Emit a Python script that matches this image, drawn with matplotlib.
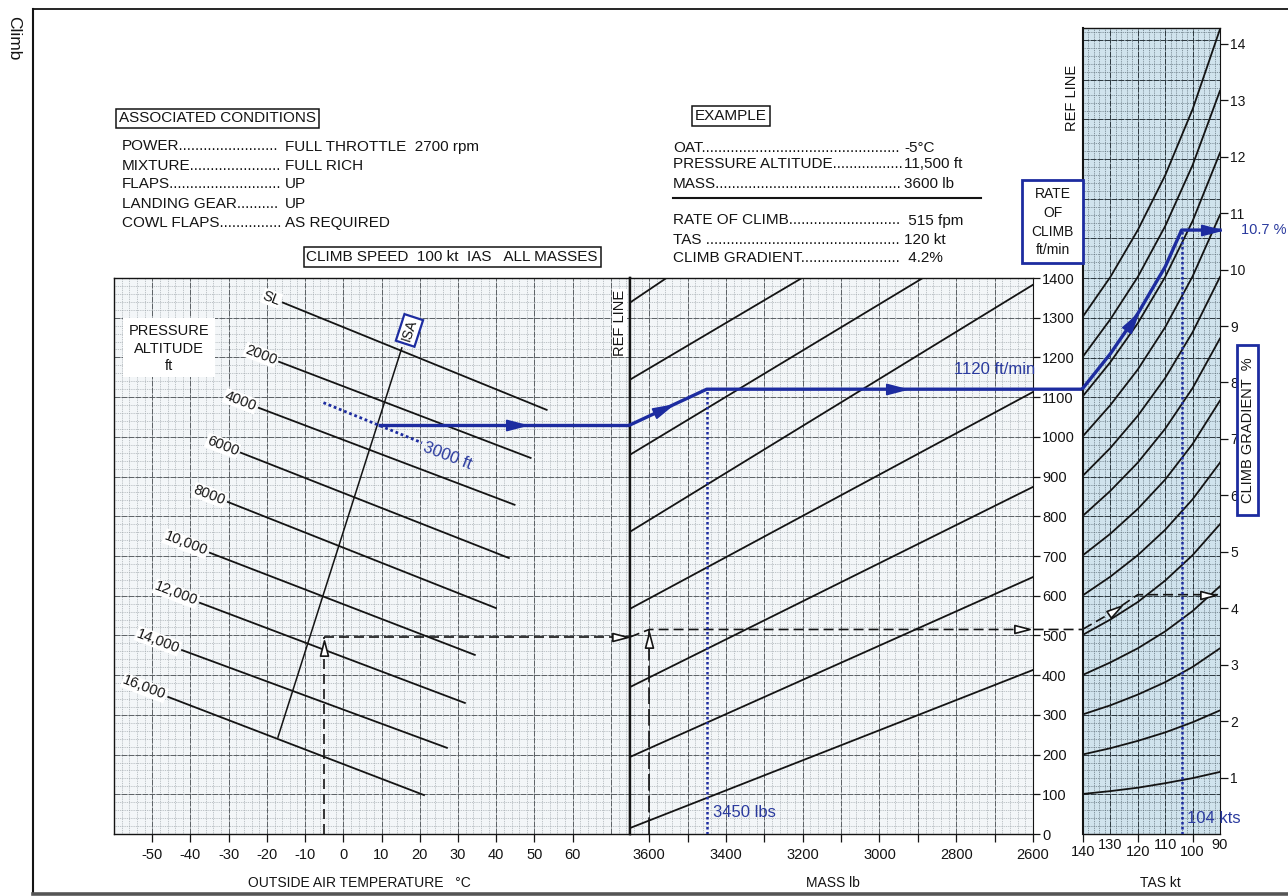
import numpy as np
import matplotlib
matplotlib.use('Agg')
import matplotlib.pyplot as plt
from matplotlib.markers import MarkerStyle
from matplotlib.path import Path
from matplotlib.transforms import Affine2D
from matplotlib.patches import Rectangle
from matplotlib.lines import Line2D

# ---------------- data ----------------
temp_ticks = [-50, -40, -30, -20, -10, 0, 10, 20, 30, 40, 50, 60]
mass_ticks = [3600, 3500, 3400, 3300, 3200, 3100, 3000, 2900, 2800, 2700, 2600]
mass_labels = ['3600', '', '3400', '', '3200', '', '3000', '', '2800', '', '2600']
roc_ticks = [0, 100, 200, 300, 400, 500, 600, 700, 800, 900, 1000, 1100, 1200, 1300, 1400]
tas_ticks = [140, 130, 120, 110, 100, 90]
tas_major = [140, 120, 100]
grad_ticks = [1, 2, 3, 4, 5, 6, 7, 8, 9, 10, 11, 12, 13, 14]

# pressure altitude lines (OAT degC, rate of climb fpm) start / end
alt_names = ['SL', '2000', '4000', '6000', '8000', '10,000', '12,000', '14,000', '16,000']
alt_oat_start = [-15.8, -16.8, -22.1, -26.8, -30.2, -34.9, -37.5, -42.2, -45.8]
alt_roc_start = [1338, 1189, 1073, 960, 836, 708, 582, 463, 345]
alt_oat_end = [53.2, 49.0, 44.8, 43.3, 39.9, 34.4, 31.8, 27.1, 21.1]
alt_roc_end = [1068, 947, 829, 695, 569, 451, 330, 217, 98]

isa_oat = [-17.1, 15.3]
isa_roc = [244, 1224]

# mass correction guide lines (mass lb, rate of climb fpm)
guide_mass_start = [3650, 3650, 3650, 3650, 3650, 3650, 3650, 3650]
guide_roc_start = [15, 194, 370, 567, 761, 955, 1144, 1338]
guide_mass_end = [2600, 2600, 2600, 2600, 2600, 2887, 3202, 3555]
guide_roc_end = [413, 647, 874, 1113, 1383, 1400, 1400, 1400]

# climb gradient guide curves (% at the TAS points)
tas_pts = [140, 130, 120, 110, 100, 90]
curve_grad = [
    [0.71, 0.76, 0.82, 0.90, 0.99, 1.10],
    [1.41, 1.52, 1.65, 1.80, 1.98, 2.19],
    [2.12, 2.28, 2.47, 2.69, 2.96, 3.29],
    [2.82, 3.04, 3.29, 3.59, 3.95, 4.39],
    [3.53, 3.80, 4.11, 4.49, 4.94, 5.49],
    [4.23, 4.56, 4.94, 5.39, 5.93, 6.58],
    [4.94, 5.32, 5.76, 6.28, 6.91, 7.68],
    [5.64, 6.08, 6.58, 7.18, 7.90, 8.78],
    [6.35, 6.84, 7.41, 8.08, 8.89, 9.87],
    [7.05, 7.60, 8.23, 8.98, 9.88, 10.97],
    [7.76, 8.36, 9.05, 9.87, 10.86, 12.07],
    [8.46, 9.12, 9.87, 10.77, 11.85, 13.17],
    [9.17, 9.87, 10.70, 11.67, 12.84, 14.26],
]

# black example
ex_oat = -5
ex_roc_ref = 496
ex_mass = 3600
ex_roc = 515
ex_tas = [140, 130, 120]
ex_grad = [3.63, 3.91, 4.24]

# blue example
blue_alt_oat = [-5.2, 20.6]
blue_alt_roc = [1086, 985]
blue_isa_oat = 9.1
blue_roc_ref = 1030
blue_mass = 3450
blue_roc = 1120
blue_tas = [140, 130, 120, 110, 104]
blue_grad = [7.90, 8.51, 9.22, 10.05, 10.70]

cond_labels = ['POWER', 'MIXTURE', 'FLAPS', 'LANDING GEAR', 'COWL FLAPS']
cond_values = ['FULL THROTTLE  2700 rpm', 'FULL RICH', 'UP', 'UP', 'AS REQUIRED']
ex_labels = ['OAT', 'PRESSURE ALTITUDE', 'MASS', 'RATE OF CLIMB', 'TAS ', 'CLIMB GRADIENT']
ex_values = ['-5°C', '11,500 ft', '3600 lb', ' 515 fpm', '120 kt', ' 4.2%']

# ---------------- figure ----------------
W, H = 1288, 896
plt.rcParams['font.family'] = ['Liberation Sans', 'DejaVu Sans']
fig = plt.figure(figsize=(W / 100, H / 100), dpi=100)
fig.patch.set_facecolor('white')

BLUE = '#1d2ca0'
BLUE_T = '#2a3a9e'
INK = '#141414'


def fx(x):
    return x / W


def fy(y):
    return 1 - y / H


def add_ax(x0, y0, x1, y1):
    return fig.add_axes([fx(x0), fy(y1), (x1 - x0) / W, (y1 - y0) / H])


def paper(ax, xs_min, xs_maj, ys_min, ys_maj, cmin, cmaj, bg):
    ax.set_facecolor(bg)
    x0, x1 = ax.get_xlim()
    y0, y1 = ax.get_ylim()
    ax.vlines(xs_min, y0, y1, colors=cmin, linewidths=0.5, linestyles=(0, (1.3, 1.3)), zorder=0.5)
    ax.hlines(ys_min, x0, x1, colors=cmin, linewidths=0.5, linestyles=(0, (1.3, 1.3)), zorder=0.5)
    ax.vlines(xs_maj, y0, y1, colors=cmaj, linewidths=0.7, linestyles=(0, (6, 1.2)), zorder=0.6)
    ax.hlines(ys_maj, x0, x1, colors=cmaj, linewidths=0.7, linestyles=(0, (6, 1.2)), zorder=0.6)


axL = add_ax(114, 278, 630, 834)
axL.set_xlim(-60, 75)
axL.set_ylim(0, 1400)
axM = add_ax(630, 278, 1033, 834)
axM.set_xlim(3650, 2600)
axM.set_ylim(0, 1400)
axG = add_ax(1083, 28, 1220, 834)
axG.set_xlim(140, 90)
axG.set_ylim(0, 2030)
axR = add_ax(1083, 28, 1220, 834)
axR.set_xlim(140, 90)
axR.set_ylim(0, 14.28)
axR.patch.set_visible(False)

cmin_lm, cmaj_lm, bg_lm = '#9ea6ab', '#5c6165', '#f3f6f8'
paper(axL, np.arange(-60, 76, 2), np.arange(-60, 76, 10), np.arange(0, 1401, 20), np.arange(0, 1401, 100),
      cmin_lm, cmaj_lm, bg_lm)
paper(axM, np.arange(2600, 3651, 20), np.arange(2600, 3651, 100), np.arange(0, 1401, 20), np.arange(0, 1401, 100),
      cmin_lm, cmaj_lm, bg_lm)
paper(axG, np.arange(90, 141, 2), np.arange(90, 141, 10), np.arange(0, 2031, 20), np.arange(0, 2031, 100),
      '#5a6a74', '#2c373e', '#d0e3ed')
axG.set_xticks([])
axG.set_yticks([])
for s in axG.spines.values():
    s.set_visible(False)

for ax in (axL, axM):
    for s in ax.spines.values():
        s.set_color(INK)
        s.set_linewidth(1.0)
axL.spines['right'].set_linewidth(1.7)
axM.spines['left'].set_linewidth(1.7)
axM.spines['right'].set_linewidth(0.8)
for k, s in axR.spines.items():
    s.set_color(INK)
    s.set_linewidth(1.0)
axR.spines['left'].set_linewidth(1.5)
axR.spines['right'].set_linewidth(0.8)

# ticks
axL.set_xticks(temp_ticks)
axL.set_xticklabels([str(t) for t in temp_ticks])
axL.tick_params(axis='x', length=6, width=0.9, direction='out', labelsize=10.5, pad=4, colors=INK)
axL.set_yticks([])

axM.set_xticks(mass_ticks)
axM.set_xticklabels(mass_labels)
axM.tick_params(axis='x', length=6, width=0.9, direction='out', labelsize=10.5, pad=4, colors=INK)
axM.yaxis.tick_right()
axM.set_yticks(roc_ticks)
axM.set_yticklabels([str(r) for r in roc_ticks])
axM.tick_params(axis='y', length=5, width=0.9, direction='out', labelsize=10.5, pad=1.5, colors=INK)

axR.set_xticks(tas_major)
axR.set_xticklabels(['' for _ in tas_major])
axR.tick_params(axis='x', length=6, width=0.9, direction='out', colors=INK)
for i, t in enumerate(tas_ticks):
    off = -18 if i % 2 == 0 else -11
    axR.annotate(str(t), xy=(t, 0), xytext=(0, off), textcoords='offset pixels', ha='center', va='center',
                 fontsize=10.5, color=INK, annotation_clip=False)
axR.yaxis.tick_right()
axR.set_yticks(grad_ticks)
axR.set_yticklabels([str(g) for g in grad_ticks])
axR.tick_params(axis='y', length=6, width=0.9, direction='out', labelsize=10, pad=1.5, colors=INK)


def arrow(ax, p, d0, d1, filled=True, color=BLUE, ms=12, ec=None):
    a = ax.transData.transform(d0)
    b = ax.transData.transform(d1)
    ang = np.degrees(np.arctan2(b[1] - a[1], b[0] - a[0]))
    path = Path([(-1, -0.52), (1, 0), (-1, 0.52), (-1, -0.52)],
                [Path.MOVETO, Path.LINETO, Path.LINETO, Path.CLOSEPOLY])
    m = MarkerStyle(path, transform=Affine2D().rotate_deg(ang))
    ax.plot([p[0]], [p[1]], ls='none', marker=m, ms=ms, mfc=color if filled else 'white',
            mec=ec or color, mew=1.2, zorder=9, clip_on=False)


# ---------------- left panel ----------------
for i, name in enumerate(alt_names):
    axL.plot([alt_oat_start[i], alt_oat_end[i]], [alt_roc_start[i], alt_roc_end[i]], color=INK, lw=1.3, zorder=3)
    axL.annotate(name, xy=(alt_oat_start[i], alt_roc_start[i]), xytext=(-3, 1), textcoords='offset pixels',
                 rotation=-21, rotation_mode='anchor', ha='right', va='center', fontsize=10.5, color=INK,
                 zorder=4, bbox=dict(boxstyle='square,pad=0.05', fc='white', ec='none'))
axL.plot(isa_oat, isa_roc, color=INK, lw=1.1, zorder=3)
axL.text(17.3, 1268, 'ISA', rotation=72, ha='center', va='center', fontsize=10, color=INK, zorder=6,
         bbox=dict(boxstyle='square,pad=0.2', fc='white', ec=BLUE, lw=1.6))
axL.text(72.3, 1287, 'REF LINE', rotation=90, ha='center', va='center', fontsize=10.5, color=INK, zorder=4,
         bbox=dict(boxstyle='square,pad=0.05', fc='white', ec='none'))

# black example (left)
axL.plot([ex_oat, ex_oat], [0, ex_roc_ref], color=INK, lw=1.2, ls=(0, (6, 3)), zorder=5)
axL.plot([ex_oat, 75], [ex_roc_ref, ex_roc_ref], color=INK, lw=1.2, ls=(0, (6, 3)), zorder=5)
arrow(axL, (ex_oat, 468), (ex_oat, 400), (ex_oat, 500), filled=False, color=INK, ms=11)
arrow(axL, (72.3, ex_roc_ref), (60, ex_roc_ref), (75, ex_roc_ref), filled=False, color=INK, ms=11)

# blue example (left)
axL.plot(blue_alt_oat, blue_alt_roc, color=BLUE, lw=2.0, ls=(0, (1, 1)), zorder=6)
axL.plot([blue_isa_oat, 75], [blue_roc_ref, blue_roc_ref], color=BLUE, lw=2.4, zorder=7, solid_capstyle='butt')
arrow(axL, (45.3, blue_roc_ref), (40, blue_roc_ref), (75, blue_roc_ref), ms=14)
axL.text(27.3, 953, '3000 ft', rotation=-21, ha='center', va='center', fontsize=12, color=BLUE_T, zorder=7)

# ---------------- middle panel ----------------
for i in range(len(guide_roc_start)):
    axM.plot([guide_mass_start[i], guide_mass_end[i]], [guide_roc_start[i], guide_roc_end[i]],
             color=INK, lw=1.3, zorder=3)

axM.plot([ex_mass, ex_mass], [0, ex_roc], color=INK, lw=1.2, ls=(0, (10, 3)), zorder=5)
axM.plot([3650, ex_mass, 2470], [ex_roc_ref, ex_roc, ex_roc], color=INK, lw=1.2, ls=(0, (6, 3)),
         zorder=5, clip_on=False)
arrow(axM, (ex_mass, 489), (ex_mass, 400), (ex_mass, 500), filled=False, color=INK, ms=11)
arrow(axM, (2629, ex_roc), (2700, ex_roc), (2600, ex_roc), filled=False, color=INK, ms=11)

axM.plot([blue_mass, blue_mass], [0, blue_roc], color=BLUE, lw=1.8, ls=(0, (1, 1)), zorder=6)
axM.plot([3650, blue_mass, 2470], [blue_roc_ref, blue_roc, blue_roc], color=BLUE, lw=2.4, zorder=7,
         clip_on=False, solid_joinstyle='round')
arrow(axM, (3564, 1069), (3650, blue_roc_ref), (blue_mass, blue_roc), ms=14)
arrow(axM, (2957, blue_roc), (3000, blue_roc), (2900, blue_roc), ms=14)
axM.text(2699, 1169, '1120 ft/min', ha='center', va='center', fontsize=12, color=BLUE_T, zorder=7)
axM.text(3434, 53, '3450 lbs', ha='left', va='center', fontsize=12, color=BLUE_T, zorder=7)

# ---------------- right panel ----------------
for g in curve_grad:
    axR.plot(tas_pts, g, color=INK, lw=1.3, zorder=3)

axR.plot(ex_tas + [90], ex_grad + [ex_grad[-1]], color=INK, lw=1.2, ls=(0, (6, 3)), zorder=5)
arrow(axR, (128.3, 3.96), (130, 3.91), (120, 4.24), filled=False, color=INK, ms=11)
arrow(axR, (94.5, ex_grad[-1]), (100, ex_grad[-1]), (90, ex_grad[-1]), filled=False, color=INK, ms=11)

axR.plot([blue_tas[-1], blue_tas[-1]], [0, blue_grad[-1]], color=BLUE, lw=1.8, ls=(0, (1, 1)), zorder=6)
axR.plot(blue_tas + [90], blue_grad + [blue_grad[-1]], color=BLUE, lw=2.4, zorder=7, clip_on=False)
arrow(axR, (122, 9.08), (130, 8.51), (120, 9.22), ms=14)
arrow(axR, (93.2, blue_grad[-1]), (100, blue_grad[-1]), (90, blue_grad[-1]), ms=14)
axR.text(102, 0.28, '104 kts', ha='left', va='center', fontsize=12, color=BLUE_T, zorder=7, clip_on=False)
axR.annotate('10.7 %', xy=(90, 10.7), xytext=(21, 0), textcoords='offset pixels', ha='left', va='center',
             fontsize=10.5, color=BLUE_T, annotation_clip=False)

# ---------------- figure texts ----------------
renderer = fig.canvas.get_renderer()


def dotted(x, ybase, label, x_end, size):
    t = fig.text(fx(x), fy(ybase), label, fontsize=size, ha='left', va='baseline', color=INK)
    s = label
    for _ in range(200):
        s2 = s + '.'
        t.set_text(s2)
        if t.get_window_extent(renderer).x1 > x_end:
            t.set_text(s)
            break
        s = s2
    return t


box_kw = dict(boxstyle='square,pad=0.18', fc='white', ec=INK, lw=1.1)
fig.text(fx(119), fy(118.5), 'ASSOCIATED CONDITIONS', fontsize=11, ha='left', va='center', color=INK, bbox=box_kw)
fig.text(fx(731), fy(116), 'EXAMPLE', fontsize=11, ha='center', va='center', color=INK, bbox=box_kw)
fig.text(fx(452), fy(257), 'CLIMB SPEED  100 kt  IAS   ALL MASSES', fontsize=11, ha='center', va='center',
         color=INK, bbox=box_kw)

cond_y = [150.5, 169.5, 188.5, 207.5, 226.5]
for lab, val, y in zip(cond_labels, cond_values, cond_y):
    dotted(122, y, lab, 282, 11)
    fig.text(fx(285), fy(y), val, fontsize=11, ha='left', va='baseline', color=INK)

ex_y = [151.5, 168.5, 187.5, 224.5, 244, 262.5]
for lab, val, y in zip(ex_labels, ex_values, ex_y):
    dotted(673, y, lab, 903, 11)
    fig.text(fx(904), fy(y), val, fontsize=11, ha='left', va='baseline', color=INK)
fig.add_artist(Line2D([fx(673), fx(981)], [fy(198), fy(198)], color=INK, lw=1.5))

# pressure altitude box
fig.add_artist(Rectangle((fx(123), fy(377)), 92 / W, 59 / H, transform=fig.transFigure, fc='white', ec='none',
                         zorder=2))
for txt, y in zip(['PRESSURE', 'ALTITUDE', 'ft'], [331, 349, 366]):
    fig.text(fx(169), fy(y), txt, fontsize=10.5, ha='center', va='center', color=INK, zorder=3)

# rate of climb box
fig.add_artist(Rectangle((fx(1022), fy(263)), 61 / W, 83 / H, transform=fig.transFigure, fc='white', ec=BLUE,
                         lw=2.0, zorder=2))
for txt, y in zip(['RATE', 'OF', 'CLIMB', 'ft/min'], [194, 213, 232, 250]):
    fig.text(fx(1052.5), fy(y), txt, fontsize=10, ha='center', va='center', color=INK, zorder=3)

# climb gradient box
fig.add_artist(Rectangle((fx(1237), fy(515)), 21 / W, 170 / H, transform=fig.transFigure, fc='white', ec=BLUE,
                         lw=2.0, zorder=2))
fig.text(fx(1247.5), fy(430), 'CLIMB GRADIENT  %', rotation=90, fontsize=10.5, ha='center', va='center',
         color=INK, zorder=3)

fig.text(fx(1072), fy(98), 'REF LINE', rotation=90, fontsize=10.5, ha='center', va='center', color=INK)

# axis titles
fig.text(fx(359), fy(883), 'OUTSIDE AIR TEMPERATURE   °C', fontsize=10, ha='center', va='center', color=INK)
fig.text(fx(833), fy(883), 'MASS lb', fontsize=10, ha='center', va='center', color=INK)
fig.text(fx(1160), fy(883), 'TAS kt', fontsize=10, ha='center', va='center', color=INK)

# outer frame and side text
fig.add_artist(Line2D([fx(33), fx(33)], [fy(9), fy(892)], color=INK, lw=1.5))
fig.add_artist(Line2D([fx(33), fx(1288)], [fy(9), fy(9)], color=INK, lw=1.3))
fig.add_artist(Line2D([fx(33), fx(1288)], [fy(893.5), fy(893.5)], color='#555555', lw=2.6))
fig.text(fx(14), fy(38), 'Climb', rotation=-90, fontsize=12.5, ha='center', va='center', color=INK)

fig.savefig('out.png', dpi=100, facecolor='white')
